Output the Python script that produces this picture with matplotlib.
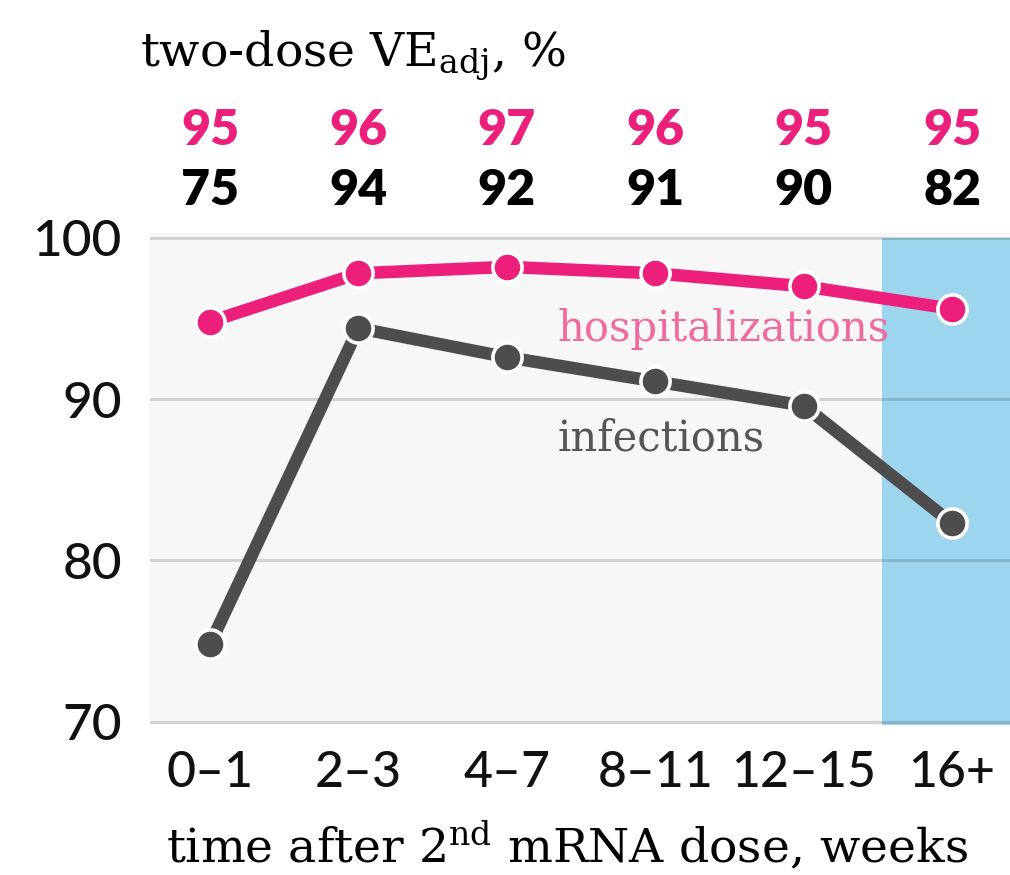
import matplotlib
matplotlib.use('Agg')
import matplotlib.pyplot as plt
from matplotlib.transforms import blended_transform_factory

# Two-dose vaccine effectiveness by time since the 2nd mRNA dose
weeks = ['0–1', '2–3', '4–7', '8–11', '12–15', '16+']
hosp_ve = [94.8, 97.8, 98.2, 97.8, 97.0, 95.6]
inf_ve = [74.8, 94.4, 92.6, 91.1, 89.6, 82.3]
hosp_labels = [95, 96, 97, 96, 95, 95]
inf_labels = [75, 94, 92, 91, 90, 82]
y_ticks = [70, 80, 90, 100]
late_start = 4.53  # shaded "16+ weeks" period

PINK = '#ec1f7b'
GREY = '#4d4d4d'
SANS = 'Lato'
SERIF = 'DejaVu Serif'

plt.rcParams['mathtext.fontset'] = 'dejavuserif'

fig = plt.figure(figsize=(10.1, 8.75), dpi=100)
ax = fig.add_axes([150 / 1010, 150 / 875, 860 / 1010, 492 / 875])
ax.set_facecolor('#f7f7f7')

x = list(range(len(weeks)))
ax.set_xlim(-0.404, 5.39)
ax.set_ylim(69.8, 100.3)

ax.axvspan(late_start, 5.39, ymin=0, ymax=(100 - 69.8) / (100.3 - 69.8),
           color='#9dd5ee', lw=0, zorder=1)
for yv in y_ticks:
    ax.axhline(yv, color='black', alpha=0.15, lw=2.2, zorder=2)

ax.plot(x, inf_ve, color=GREY, lw=9, marker='o', markersize=21,
        markerfacecolor=GREY, markeredgecolor='white', markeredgewidth=2.6,
        zorder=3)
ax.plot(x, hosp_ve, color=PINK, lw=9, marker='o', markersize=21,
        markerfacecolor=PINK, markeredgecolor='white', markeredgewidth=2.6,
        zorder=4)

ax.text(2.34, 93.6, 'hospitalizations', color='#f06aa0', fontsize=30,
        family=SERIF, ha='left', va='baseline', zorder=5)
ax.text(2.34, 86.8, 'infections', color='#555555', fontsize=30,
        family=SERIF, ha='left', va='baseline', zorder=5)

for s in ax.spines.values():
    s.set_visible(False)
ax.set_yticks(y_ticks)
ax.set_yticklabels([str(v) for v in y_ticks], fontsize=37, family=SANS,
                   fontweight='medium')
ax.set_xticks(x)
ax.set_xticklabels(weeks, fontsize=36, family=SANS, fontweight='medium')
ax.tick_params(axis='both', length=0, colors='#111111')
ax.tick_params(axis='y', pad=20)
ax.tick_params(axis='x', pad=18)

# value rows above the plot
trans = blended_transform_factory(ax.transData, fig.transFigure)
for xi, h, i in zip(x, hosp_labels, inf_labels):
    ax.text(xi, 1 - 145 / 875, str(h), transform=trans, color=PINK,
            fontsize=36, fontweight='heavy', family=SANS, ha='center', va='baseline')
    ax.text(xi, 1 - 205 / 875, str(i), transform=trans, color='black',
            fontsize=36, fontweight='heavy', family=SANS, ha='center', va='baseline')

fig.text(140 / 1010, 1 - 66 / 875, r'two-dose VE$_{\mathrm{adj}}$, %',
         fontsize=34, family=SERIF, ha='left', va='baseline')
fig.text(567 / 1010, 1 - 862 / 875, r'time after 2$^{\mathrm{nd}}$ mRNA dose, weeks',
         fontsize=34, family=SERIF, ha='center', va='baseline')

fig.savefig('out.png', dpi=100)
